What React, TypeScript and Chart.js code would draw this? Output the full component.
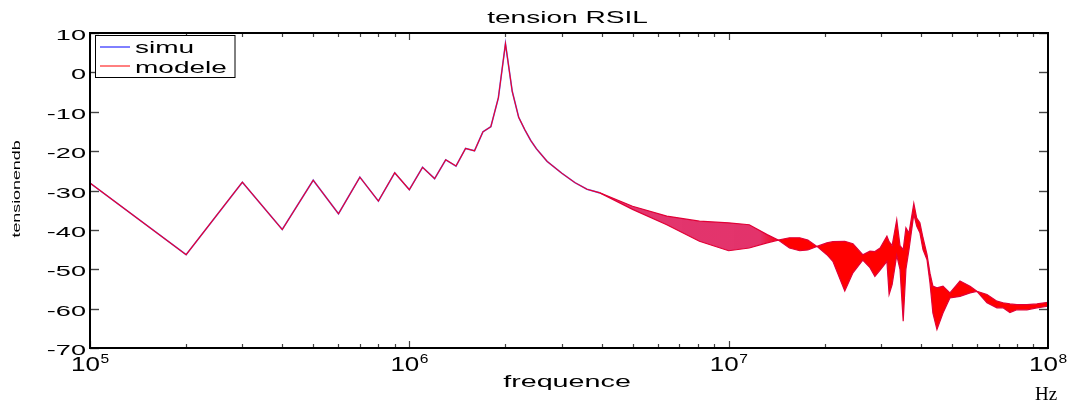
import React, { useEffect, useRef } from "react";
import { Chart, registerables } from "chart.js";

Chart.register(...registerables);

// ---- data ----
const lineFreqHz = [
  1e5, 2e5, 3e5, 4e5, 5e5, 6e5, 7e5, 8e5, 9e5, 1e6,
  1.1e6, 1.2e6, 1.3e6, 1.4e6, 1.5e6, 1.6e6, 1.7e6, 1.8e6, 1.9e6, 2.0e6,
  2.1e6, 2.2e6, 2.3e6, 2.4e6, 2.5e6, 2.7e6, 3.0e6, 3.3e6, 3.6e6, 3.95e6,
];
const simuDb = [
  -28.1, -46.3, -27.9, -39.9, -27.4, -35.9, -26.6, -32.7, -25.5, -29.8,
  -24.1, -27.0, -22.2, -23.8, -19.3, -19.9, -15.1, -13.8, -6.5, 7.3,
  -4.8, -11.4, -14.6, -17.3, -19.4, -22.6, -25.6, -28.0, -29.7, -30.6,
];
const modeleDb = [
  -28.1, -46.3, -27.9, -39.9, -27.4, -35.9, -26.6, -32.7, -25.5, -29.8,
  -24.1, -27.0, -22.2, -23.8, -19.3, -19.9, -15.1, -13.8, -6.5, 7.3,
  -4.8, -11.4, -14.6, -17.3, -19.4, -22.6, -25.6, -28.0, -29.7, -30.6,
];

// dense oscillating part: envelope of the curves
const bandFreqHz = [
  3.95e6, 5.0e6, 6.4e6, 8.1e6, 1.0e7, 1.16e7, 1.32e7, 1.43e7, 1.55e7, 1.67e7,
  1.77e7, 1.89e7, 2.03e7, 2.12e7, 2.31e7, 2.45e7, 2.63e7, 2.77e7, 2.87e7, 2.98e7,
  3.13e7, 3.18e7, 3.25e7, 3.36e7, 3.44e7, 3.52e7, 3.59e7, 3.67e7, 3.8e7, 3.88e7,
  3.97e7, 4.06e7, 4.18e7, 4.27e7, 4.36e7, 4.49e7, 4.69e7, 4.93e7, 5.3e7, 5.7e7,
  5.99e7, 6.44e7, 6.92e7, 7.23e7, 7.6e7, 7.99e7, 8.59e7, 9.23e7, 1e8,
];
const bandUpperDb = [
  -30.6, -34.0, -36.5, -37.8, -38.2, -38.7, -41.2, -42.6, -42.0, -42.0,
  -42.6, -44.2, -43.3, -43.0, -42.9, -43.5, -46.3, -45.4, -45.5, -44.6,
  -41.6, -43.0, -44.0, -37.4, -44.0, -45.0, -39.5, -40.8, -33.3, -37.0,
  -38.2, -42.0, -46.3, -51.0, -54.3, -54.7, -54.3, -56.0, -53.0, -54.3,
  -55.6, -56.4, -58.1, -58.5, -58.8, -59.0, -59.0, -58.8, -58.4,
];
const bandLowerDb = [
  -30.6, -34.8, -38.7, -42.9, -45.3, -44.6, -43.3, -42.6, -44.6, -45.3,
  -45.1, -44.2, -46.3, -48.0, -55.5, -50.9, -47.7, -49.6, -51.8, -50.2,
  -48.0, -56.4, -53.9, -46.5, -50.0, -63.2, -50.0, -45.0, -36.0, -39.0,
  -40.7, -45.0, -47.6, -53.5, -61.1, -65.3, -61.1, -57.3, -56.9, -56.0,
  -55.6, -58.5, -59.8, -59.8, -61.0, -60.3, -60.3, -59.8, -59.4,
];

const yTickValues = [10, 0, -10, -20, -30, -40, -50, -60, -70];
const xTickExponents = [5, 6, 7, 8];
const titleText = "tension RSIL";
const xAxisLabel = "frequence";
const yAxisLabel = "tensionendb";
const xUnitLabel = "Hz";
const legendLabels = ["simu", "modele"];

const SANS = '"Liberation Sans", Arial, Helvetica, sans-serif';
const SERIF = '"Liberation Serif", "Times New Roman", serif';

function drawText(
  ctx: CanvasRenderingContext2D,
  text: string,
  x: number,
  y: number,
  size: number,
  sx: number,
  align: "left" | "center" | "right",
  family: string = SANS
) {
  ctx.save();
  ctx.font = `${size}px ${family}`;
  ctx.textAlign = "left";
  ctx.textBaseline = "alphabetic";
  const w = ctx.measureText(text).width * sx;
  const left = align === "right" ? x - w : align === "center" ? x - w / 2 : x;
  ctx.translate(left, y);
  ctx.scale(sx, 1);
  ctx.fillStyle = "#000";
  ctx.fillText(text, 0, 0);
  ctx.restore();
  return w;
}

function seg(ctx: CanvasRenderingContext2D, x1: number, y1: number, x2: number, y2: number) {
  ctx.beginPath();
  ctx.moveTo(x1, y1);
  ctx.lineTo(x2, y2);
  ctx.stroke();
}

const decorPlugin = {
  id: "decor",
  afterDraw(chart: any) {
    const ctx: CanvasRenderingContext2D = chart.ctx;
    const { left, right, top, bottom } = chart.chartArea;
    const xs = chart.scales.x;
    const ys = chart.scales.y;
    ctx.save();

    // y ticks (left and right, inward)
    ctx.strokeStyle = "#444";
    ctx.lineWidth = 1.4;
    yTickValues.forEach((v) => {
      const py = Math.round(ys.getPixelForValue(v)) + 0.5;
      seg(ctx, left, py, left + 9, py);
      seg(ctx, right, py, right - 9, py);
    });
    // x ticks (bottom and top, inward), log minors
    ctx.lineWidth = 1.2;
    for (let e = 5; e <= 7; e++) {
      const d = Math.pow(10, e);
      for (let m = 1; m <= 9; m++) {
        const px = Math.round(xs.getPixelForValue(m * d)) + 0.5;
        const len = m === 1 ? 7 : 4;
        seg(ctx, px, bottom, px, bottom - len);
        seg(ctx, px, top, px, top + len);
      }
    }

    // axis box
    ctx.strokeStyle = "#000";
    ctx.lineWidth = 2;
    ctx.strokeRect(left, top, right - left, bottom - top);

    // y tick labels
    yTickValues.forEach((v) => {
      const py = ys.getPixelForValue(v);
      drawText(ctx, String(v), left - 4, py + 7, 15.5, 1.75, "right");
    });

    // x tick labels 10^n
    xTickExponents.forEach((e) => {
      const px = xs.getPixelForValue(Math.pow(10, e));
      drawText(ctx, "10", px + 10, 371, 20, 1.3, "right");
      drawText(ctx, String(e), px + 10.5, 363, 12, 1.3, "left");
    });

    // title & axis labels
    const cx = (left + right) / 2;
    drawText(ctx, titleText, cx - 1.5, 22.7, 16.5, 1.7, "center");
    drawText(ctx, xAxisLabel, cx - 2, 387, 16.5, 1.74, "center");
    drawText(ctx, xUnitLabel, 1035, 400, 19, 1, "left", SERIF);

    ctx.save();
    ctx.translate(20, 189);
    ctx.rotate(-Math.PI / 2);
    ctx.scale(1.55, 1);
    ctx.font = `11.5px ${SANS}`;
    ctx.textAlign = "center";
    ctx.textBaseline = "alphabetic";
    ctx.fillStyle = "#000";
    ctx.fillText(yAxisLabel, 0, 0);
    ctx.restore();

    // legend
    ctx.fillStyle = "#fff";
    ctx.fillRect(95.5, 35.5, 139.5, 42);
    ctx.strokeStyle = "#000";
    ctx.lineWidth = 1;
    ctx.strokeRect(95.5, 35.5, 139.5, 42);
    ctx.lineWidth = 1;
    ctx.strokeStyle = "#0000ff";
    seg(ctx, 100, 47, 130, 47);
    ctx.strokeStyle = "#ff0000";
    seg(ctx, 100, 66, 130, 66);
    drawText(ctx, legendLabels[0], 135, 53.3, 16, 1.75, "left");
    drawText(ctx, legendLabels[1], 135, 73.3, 16, 1.75, "left");

    ctx.restore();
  },
};

function toPoints(xs: number[], ys: number[]) {
  return xs.map((x, i) => ({ x, y: ys[i] }));
}

export default function App() {
  const canvasRef = useRef<HTMLCanvasElement | null>(null);

  useEffect(() => {
    const canvas = canvasRef.current;
    if (!canvas) return;

    const bandFill = (c: any) => {
      const chart = c.chart;
      const area = chart.chartArea;
      if (!area) return "rgba(255,0,0,1)";
      const xs = chart.scales.x;
      const w = area.right - area.left;
      const f = (v: number) =>
        Math.min(1, Math.max(0, (xs.getPixelForValue(v) - area.left) / w));
      const g = chart.ctx.createLinearGradient(area.left, 0, area.right, 0);
      g.addColorStop(0, "rgba(210,0,80,0.75)");
      g.addColorStop(f(1.25e7), "rgba(220,0,70,0.8)");
      g.addColorStop(f(1.45e7), "rgba(255,0,0,1)");
      g.addColorStop(1, "rgba(255,0,0,1)");
      return g;
    };

    const chart = new Chart(canvas, {
      type: "line",
      data: {
        datasets: [
          {
            label: legendLabels[1],
            data: toPoints(lineFreqHz, modeleDb),
            borderColor: "rgb(240,0,35)",
            borderWidth: 1.1,
            pointRadius: 0,
            tension: 0,
            fill: false,
            order: 0,
          },
          {
            label: legendLabels[0],
            data: toPoints(lineFreqHz, simuDb),
            borderColor: "rgba(90,90,255,0.9)",
            borderWidth: 1.6,
            pointRadius: 0,
            tension: 0,
            fill: false,
            order: 1,
          },
          {
            label: "upper",
            data: toPoints(bandFreqHz, bandUpperDb),
            borderColor: "rgb(225,0,55)",
            borderWidth: 1.2,
            pointRadius: 0,
            tension: 0,
            fill: false,
            order: 2,
          },
          {
            label: "lower",
            data: toPoints(bandFreqHz, bandLowerDb),
            borderColor: "rgb(225,0,55)",
            backgroundColor: bandFill,
            borderWidth: 1.2,
            pointRadius: 0,
            tension: 0,
            fill: "-1",
            order: 3,
          },
        ],
      },
      options: {
        animation: false,
        responsive: false,
        devicePixelRatio: 1,
        layout: { padding: { left: 90, top: 33, right: 28, bottom: 53 } },
        scales: {
          x: { type: "logarithmic", min: 1e5, max: 1e8, display: false },
          y: { type: "linear", min: -70, max: 10, display: false },
        },
        plugins: {
          legend: { display: false },
          title: { display: false },
          tooltip: { enabled: false },
        },
        events: [],
      },
      plugins: [decorPlugin],
    } as any);

    return () => chart.destroy();
  }, []);

  return (
    <div style={{ position: "absolute", left: 0, top: 0, width: 1076, height: 401, background: "#fff" }}>
      <canvas ref={canvasRef} width={1076} height={401} style={{ display: "block" }} />
    </div>
  );
}
